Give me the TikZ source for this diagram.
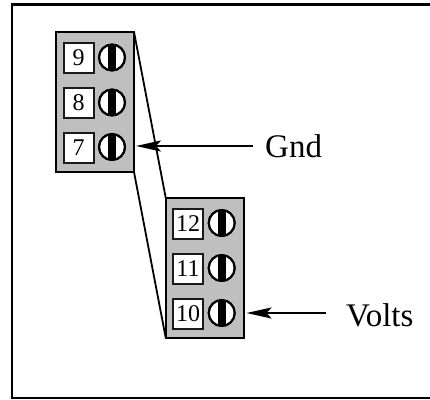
\documentclass[tikz,border=0pt]{standalone}
\usepackage{fontspec}
\setmainfont{Liberation Serif}
\usetikzlibrary{arrows.meta,calc}
\tikzset{
  block/.style={draw=black,fill=black!25,line width=2pt,minimum width=78pt,minimum height=140pt,inner sep=0pt,outer sep=0pt},
  numbox/.style={draw=black!90,fill=white,line width=2pt,minimum width=30pt,minimum height=30pt,inner sep=0pt,outer sep=0pt,font=\fontsize{24}{24}\selectfont},
  screw/.style={draw=black,fill=white,line width=2pt,circle,minimum size=26pt,inner sep=0pt,outer sep=0pt},
  lead/.style={draw=black,line width=1.8pt},
  pointer/.style={draw=black,line width=2.3pt,-{Stealth[length=25pt,width=11pt,inset=5pt]}},
  tag/.style={font=\fontsize{33}{33}\selectfont,inner sep=0pt,anchor=base west}
}
\newcommand{\screwat}[2]{%
  \node[screw] (#1) at (#2) {};
  \fill[black] ($(#1.center)+(-4pt,13pt)$) rectangle ($(#1.center)+(4pt,-13pt)$);
  \draw[line width=2pt] (#1.center) circle (13pt);
}
\begin{document}
\begin{tikzpicture}[x=1pt,y=-1pt]
\useasboundingbox (0,0) rectangle (430,399);
\fill[white] (0,0) rectangle (430,399);
\draw[line width=2.4pt] (431,4.5) -- (12,4.5) -- (12,398) -- (431,398);
\node[block] (blockA) at (95,102) {};
\node[block] (blockB) at (204.7,267.7) {};
\draw[lead] (blockA.north east) -- (blockB.north west);
\draw[lead] (blockA.south east) -- (blockB.south west);
\node[numbox] (n9) at (78.7,58) {9};
\node[numbox] (n8) at (78.7,103) {8};
\node[numbox] (n7) at (78.7,148) {7};
\screwat{s9}{112,57.5}
\screwat{s8}{112,102.5}
\screwat{s7}{112,147}
\node[numbox] (n12) at (188,224) {12};
\node[numbox] (n11) at (188,269) {11};
\node[numbox] (n10) at (188,314) {10};
\screwat{s12}{221.7,223}
\screwat{s11}{221.7,268}
\screwat{s10}{221.7,313}
\coordinate (tailA) at (253,146);
\coordinate (tipA) at (136,146);
\coordinate (tailB) at (326,313);
\coordinate (tipB) at (246.5,313);
\draw[pointer] (tailA) -- (tipA);
\draw[pointer] (tailB) -- (tipB);
\node[tag] (gnd) at (265,157) {Gnd};
\node[tag] (volts) at (346,326) {Volts};
\end{tikzpicture}
\end{document}
